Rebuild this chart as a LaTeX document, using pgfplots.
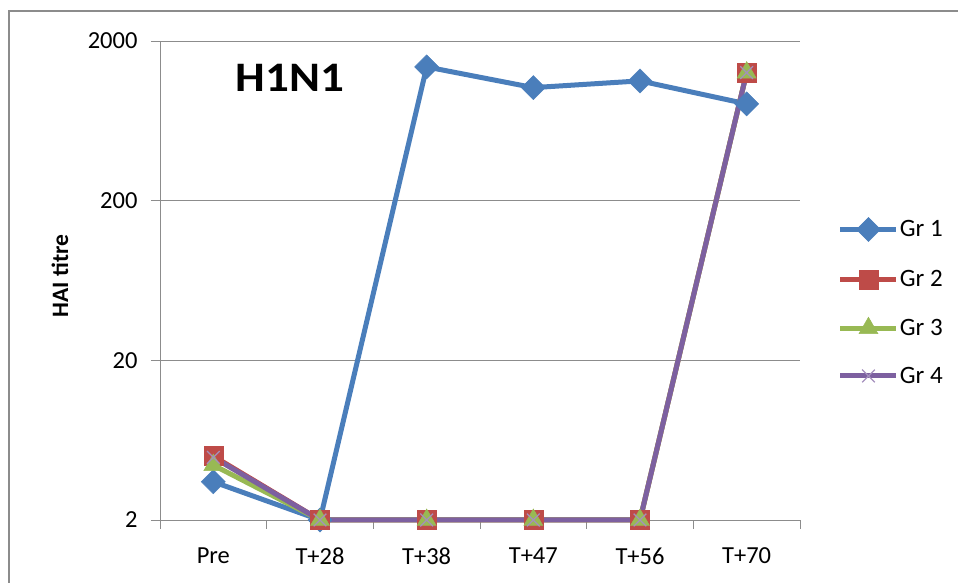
\documentclass[border=0pt]{standalone}
\usepackage{pgfplots}
\pgfplotsset{compat=1.18}
\usepackage{fontspec}
\setmainfont{Carlito}
\definecolor{c1}{HTML}{4A7EBB}
\definecolor{c2}{HTML}{BE4B48}
\definecolor{c3}{HTML}{98B954}
\definecolor{c4}{HTML}{7D60A0}
\definecolor{gridc}{HTML}{8C8C8C}
\begin{document}
\begin{tikzpicture}
\path[use as bounding box] (0pt,0pt) rectangle (958pt,583pt);
\draw[gridc, line width=2.5pt] (9pt,0pt) -- (9pt,572pt) -- (958pt,572pt);
\begin{axis}[
  at={(160pt,63pt)}, anchor=south west,
  scale only axis, width=640pt, height=479pt,
  xmin=-0.5, xmax=5.5,
  ymode=log, ymin=2, ymax=2000,
  ytick={2,20,200,2000}, yticklabels={2,20,200,2000},
  log ticks with fixed point,
  xtick={-0.5,0.5,1.5,2.5,3.5,4.5,5.5}, xticklabels={},
  extra x ticks={0,1,2,3,4,5},
  extra x tick labels={Pre,T+28,T+38,T+47,T+56,T+70},
  extra x tick style={major tick length=0pt, grid=none, xticklabel style={yshift=-24pt}},
  tick align=outside, major tick length=9pt,
  minor tick length=0pt,
  ymajorgrids, grid style={gridc, line width=0.8pt},
  axis lines*=left,
  axis line style={gridc, line width=0.8pt, -},
  tick style={gridc, line width=0.8pt},
  every tick label/.append style={font=\fontsize{24.5}{28}\selectfont, text=black},
  yticklabel style={xshift=-10pt},
  /pgf/number format/assume math mode=true,
  clip=false,
  legend style={at={(1.059,0.632)}, anchor=north west, draw=none, fill=none,
    font=\fontsize{25}{29}\selectfont, row sep=28pt, inner sep=0pt,
    nodes={inner sep=1pt}},
  legend cell align=left,
  legend image code/.code={\draw[mark repeat=2,mark phase=2] plot coordinates {(0pt,0pt) (28pt,0pt) (56pt,0pt)};},
  every axis plot/.append style={line width=5pt},
]
\addplot[c1, mark=square*, mark size=8.5pt, mark options={solid, rotate=45, line width=0.5pt, fill=c1}]
  coordinates {(0,3.47) (1,2) (2,1376) (3,1021) (4,1125) (5,807)};
\addlegendentry{Gr 1}
\addplot[c2, mark=square*, mark size=9.5pt, mark options={solid, line width=0.5pt, fill=c2}]
  coordinates {(0,5.02) (1,2) (2,2) (3,2) (4,2) (5,1268)};
\addlegendentry{Gr 2}
\addplot[c3, mark=triangle*, mark size=11pt, mark options={solid, line width=0.5pt, fill=c3}]
  coordinates {(0,4.41) (1,2) (2,2) (3,2) (4,2) (5,1268)};
\addlegendentry{Gr 3}
\addplot[c4, mark=x, mark size=9pt, mark options={solid, line width=1.2pt, draw=c4!70}]
  coordinates {(0,4.93) (1,2) (2,2) (3,2) (4,2) (5,1268)};
\addlegendentry{Gr 4}
\end{axis}
\node[font=\bfseries\fontsize{42}{48}\selectfont, xscale=1.12] at (290pt,505pt) {H1N1};
\node[font=\bfseries\fontsize{23.5}{27}\selectfont, rotate=90] at (60pt,307pt) {HAI titre};
\end{tikzpicture}
\end{document}
